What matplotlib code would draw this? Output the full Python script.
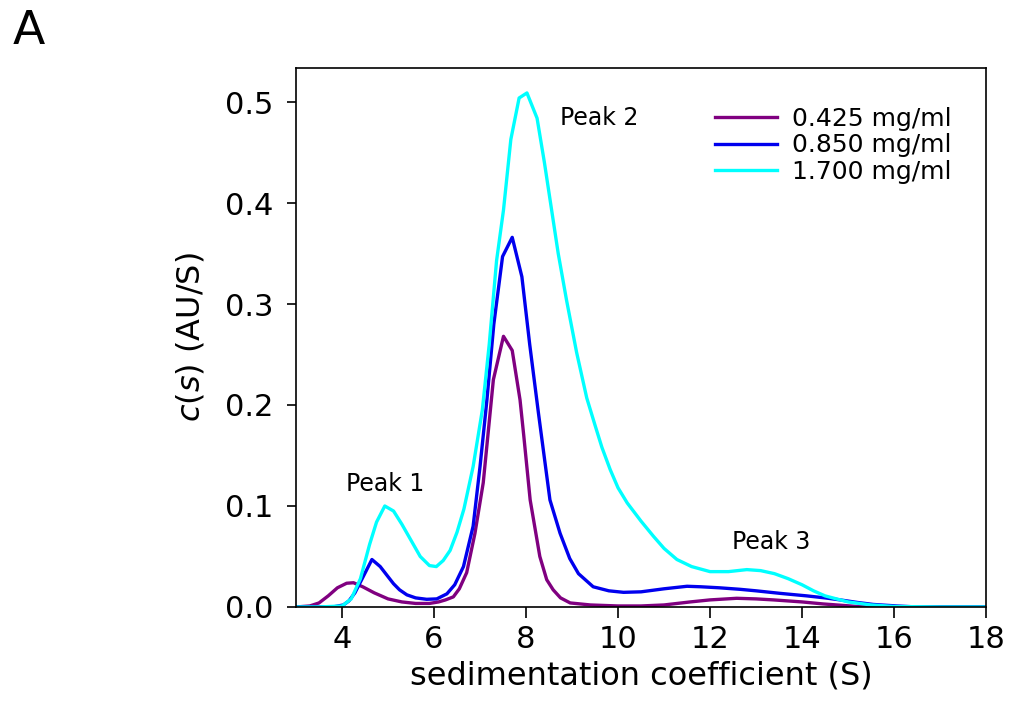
import matplotlib
matplotlib.use("Agg")
import matplotlib.pyplot as plt

plt.rcParams['font.family'] = ['DejaVu Sans']
plt.rcParams['mathtext.fontset'] = 'custom'
plt.rcParams['mathtext.it'] = 'DejaVu Sans:italic'
plt.rcParams['mathtext.rm'] = 'DejaVu Sans'

# ---- data ----
s_425 = [3.0, 3.3, 3.5, 3.7, 3.9, 4.1, 4.25, 4.45, 4.7, 5.0, 5.3, 5.6, 5.9, 6.1, 6.25,
         6.42, 6.55, 6.71, 6.89, 7.07, 7.29, 7.51, 7.70, 7.87, 7.95, 8.09, 8.3, 8.45,
         8.59, 8.75, 8.96, 9.4, 10.0, 10.5, 11.0, 11.57, 12.0, 12.58, 13.0, 13.38, 14.0,
         14.46, 15.2, 16.0, 18.0]
c_425 = [0.0, 0.001, 0.004, 0.011, 0.019, 0.0235, 0.024, 0.020, 0.014, 0.008, 0.005,
         0.0035, 0.0035, 0.005, 0.007, 0.010, 0.018, 0.034, 0.073, 0.123, 0.225, 0.268,
         0.254, 0.205, 0.17, 0.106, 0.050, 0.027, 0.017, 0.009, 0.004, 0.002, 0.001,
         0.001, 0.002, 0.005, 0.007, 0.0086, 0.008, 0.007, 0.005, 0.003, 0.0005, 0.0, 0.0]

s_850 = [3.0, 3.8, 4.03, 4.15, 4.28, 4.46, 4.65, 4.83, 5.0, 5.12, 5.25, 5.41, 5.6, 5.84,
         6.06, 6.28, 6.45, 6.64, 6.85, 7.0, 7.15, 7.3, 7.49, 7.70, 7.91, 8.08, 8.27, 8.52,
         8.74, 8.95, 9.14, 9.46, 9.8, 10.12, 10.5, 11.0, 11.5, 11.8, 12.2, 12.65, 13.0,
         13.52, 14.1, 14.5, 14.83, 15.2, 15.55, 16.06, 16.5, 18.0]
c_850 = [0.0, 0.0, 0.002, 0.006, 0.014, 0.030, 0.047, 0.040, 0.030, 0.023, 0.017, 0.012,
         0.009, 0.0076, 0.008, 0.013, 0.022, 0.040, 0.080, 0.139, 0.205, 0.280, 0.347,
         0.366, 0.327, 0.260, 0.192, 0.106, 0.073, 0.048, 0.033, 0.020, 0.016, 0.0145,
         0.015, 0.018, 0.0205, 0.020, 0.019, 0.0175, 0.016, 0.0135, 0.011, 0.009, 0.007,
         0.0045, 0.0025, 0.001, 0.0, 0.0]

s_1700 = [3.0, 3.5, 4.0, 4.2, 4.4, 4.6, 4.75, 4.93, 5.12, 5.3, 5.5, 5.7, 5.9, 6.05, 6.2,
          6.35, 6.5, 6.65, 6.85, 7.05, 7.2, 7.36, 7.51, 7.67, 7.85, 8.02, 8.24, 8.4, 8.55,
          8.7, 8.88, 9.1, 9.32, 9.5, 9.65, 9.83, 10.0, 10.2, 10.5, 10.77, 11.0, 11.28,
          11.6, 12.0, 12.4, 12.8, 13.1, 13.4, 13.7, 14.0, 14.25, 14.5, 15.0, 15.5, 16.0,
          17.0, 18.0]
c_1700 = [0.0, 0.0, 0.001, 0.008, 0.028, 0.062, 0.084, 0.100, 0.095, 0.082, 0.066, 0.050,
          0.041, 0.040, 0.046, 0.056, 0.074, 0.097, 0.139, 0.195, 0.260, 0.343, 0.393,
          0.463, 0.504, 0.509, 0.484, 0.440, 0.395, 0.350, 0.304, 0.252, 0.207, 0.180,
          0.158, 0.136, 0.118, 0.103, 0.085, 0.070, 0.058, 0.047, 0.040, 0.035, 0.035,
          0.037, 0.036, 0.033, 0.028, 0.022, 0.016, 0.011, 0.005, 0.002, 0.0005, 0.0, 0.0]

labels = ['0.425 mg/ml', '0.850 mg/ml', '1.700 mg/ml']
colors = ['#800080', '#0000ee', '#00ffff']
x_ticks = [4, 6, 8, 10, 12, 14, 16, 18]
y_ticks = [0.0, 0.1, 0.2, 0.3, 0.4, 0.5]
y_ticklabels = ['0.0', '0.1', '0.2', '0.3', '0.4', '0.5']
peak_labels = ['Peak 1', 'Peak 2', 'Peak 3']
peak_pos = [(4.93, 0.122), (9.6, 0.484), (13.33, 0.064)]

# ---- figure ----
fig = plt.figure(figsize=(10.11, 7.09), dpi=100)
fig.patch.set_facecolor('white')
ax = fig.add_axes([0.2928, 0.1439, 0.6825, 0.7602])

for s, c, lab, col in zip([s_425, s_850, s_1700], [c_425, c_850, c_1700], labels, colors):
    ax.plot(s, c, color=col, lw=2.4, label=lab)

ax.set_xlim(3, 18)
ax.set_ylim(0, 0.5337)
ax.set_xticks(x_ticks)
ax.set_xticklabels([str(t) for t in x_ticks])
ax.set_yticks(y_ticks)
ax.set_yticklabels(y_ticklabels)

for sp in ax.spines.values():
    sp.set_linewidth(1.2)
ax.tick_params(axis='both', which='major', labelsize=22, width=1.2, direction='out')
ax.tick_params(axis='x', length=8, pad=5)
ax.tick_params(axis='y', length=6.5, pad=10)

ax.set_xlabel('sedimentation coefficient (S)', fontsize=23, labelpad=5)
ax.set_ylabel(r'$\mathit{c}$($\mathit{s}$) (AU/S)', fontsize=23, labelpad=13)

for txt, (px, py) in zip(peak_labels, peak_pos):
    ax.text(px, py, txt, fontsize=17, ha='center', va='center')

leg = ax.legend(loc='upper left', bbox_to_anchor=(0.607, 0.928), frameon=False,
                fontsize=18, handlelength=2.5, handletextpad=0.6, labelspacing=0.1,
                borderpad=0, borderaxespad=0)
for line in leg.get_lines():
    line.set_linewidth(2.4)

fig.text(0.012, 0.955, 'A', fontsize=34, ha='left', va='center')

fig.savefig('out.png', dpi=100, facecolor='white')
